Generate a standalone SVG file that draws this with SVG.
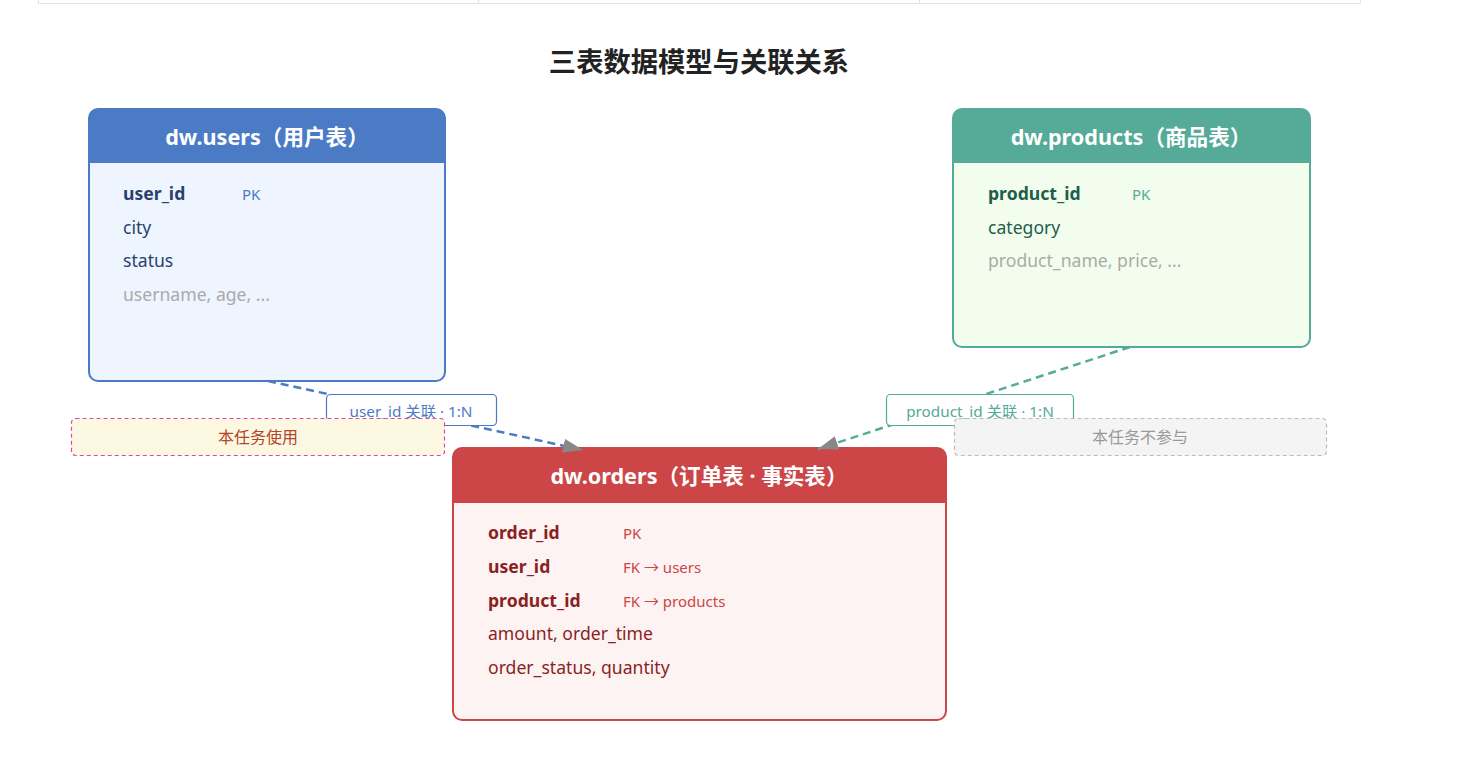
<svg xmlns="http://www.w3.org/2000/svg" width="1458" height="758" viewBox="0 0 1458 758">
<defs>
<style>
text{font-family:"Noto Sans","Noto Sans CJK SC",sans-serif;}
.title{font-size:27.3px;font-weight:bold;fill:#222;font-family:"Noto Sans CJK SC",sans-serif;}
.hdr{font-size:21.6px;font-weight:bold;fill:#fff;text-anchor:middle;}
.f{font-size:17.6px;}
.b{font-weight:bold;}
.tag{font-size:15px;}
.muted{fill:#aaa;}
.u{fill:#2a4170;}
.p{fill:#1e5e4a;}
.o{fill:#8a1f24;}
.lbl{font-size:15.3px;text-anchor:middle;}
.note{font-size:16px;text-anchor:middle;}
.conn{fill:none;stroke-width:2.5;stroke-dasharray:8 5;}
</style>
<marker id="arr" viewBox="0 0 10 7" refX="10" refY="3.5" markerWidth="8" markerHeight="5.6" markerUnits="strokeWidth" orient="auto">
<path d="M0,0 L10,3.5 L0,7 z" fill="#888"/>
</marker>
</defs>
<rect width="1458" height="758" fill="#fff"/>
<g id="table-edge" stroke="#e3e3e3" stroke-width="1" fill="none">
<path d="M38.5,0 V3.5 H1360.5 V0"/>
<path d="M478.5,0 V3.5 M919.5,0 V3.5"/>
</g>
<text class="title" x="699" y="72" text-anchor="middle">三表数据模型与关联关系</text>
<g id="users">
<rect x="89" y="109" width="356" height="272" rx="9" fill="#eef5fe" stroke="#4a7bc4" stroke-width="2"/>
<path d="M89,163 V118 a9,9 0 0 1 9,-9 H436 a9,9 0 0 1 9,9 V163 z" fill="#4a7bc4"/>
<text class="hdr" x="267" y="145">dw.users（用户表）</text>
<text class="f b u" x="123" y="200">user_id</text>
<text class="tag" x="242" y="200" fill="#4a7bc4">PK</text>
<text class="f u" x="123" y="234">city</text>
<text class="f u" x="123" y="267">status</text>
<text class="f muted" x="123" y="301">username, age, ...</text>
</g>
<g id="products">
<rect x="953" y="109" width="357" height="238" rx="9" fill="#f2fdee" stroke="#55aa98" stroke-width="2"/>
<path d="M953,163 V118 a9,9 0 0 1 9,-9 H1301 a9,9 0 0 1 9,9 V163 z" fill="#55aa98"/>
<text class="hdr" x="1131" y="145">dw.products（商品表）</text>
<text class="f b p" x="988" y="200">product_id</text>
<text class="tag" x="1132" y="200" fill="#55aa98">PK</text>
<text class="f p" x="988" y="234">category</text>
<text class="f muted" x="988" y="267">product_name, price, ...</text>
</g>
<g id="orders">
<rect x="453" y="448" width="493" height="272" rx="9" fill="#fdf3f2" stroke="#cc4547" stroke-width="2"/>
<path d="M453,503 V457 a9,9 0 0 1 9,-9 H937 a9,9 0 0 1 9,9 V503 z" fill="#cc4547"/>
<text class="hdr" x="699" y="484">dw.orders（订单表 · 事实表）</text>
<text class="f b o" x="488" y="539">order_id</text>
<text class="tag" x="623" y="539" fill="#cc4547">PK</text>
<text class="f b o" x="488" y="573">user_id</text>
<text class="tag" x="623" y="573" fill="#cc4547">FK → users</text>
<text class="f b o" x="488" y="607">product_id</text>
<text class="tag" x="623" y="607" fill="#cc4547">FK → products</text>
<text class="f o" x="488" y="640">amount, order_time</text>
<text class="f o" x="488" y="674">order_status, quantity</text>
</g>
<g id="connectors">
<line class="conn" x1="268" y1="381" x2="583" y2="450" stroke="#4a7bc4" marker-end="url(#arr)"/>
<rect x="326.5" y="394.5" width="170" height="31" rx="4" fill="#fff" stroke="#4a7bc4" stroke-width="1.2"/>
<text class="lbl" x="411" y="417" fill="#4a7bc4">user_id 关联 · 1:N</text>
<line class="conn" x1="1130" y1="347" x2="818" y2="449" stroke="#55aa98" marker-end="url(#arr)"/>
<rect x="886.5" y="394.5" width="187" height="31" rx="4" fill="#fff" stroke="#55aa98" stroke-width="1.2"/>
<text class="lbl" x="980" y="417" fill="#55aa98">product_id 关联 · 1:N</text>
</g>
<g id="note-used">
<rect x="71.5" y="418.5" width="373" height="37" rx="4" fill="#fdf8e2" stroke="#e046a8" stroke-width="1.2" stroke-dasharray="4 3"/>
<text class="note" x="258" y="443" fill="#b5452a">本任务使用</text>
</g>
<g id="note-unused">
<rect x="954.5" y="418.5" width="372" height="37" rx="4" fill="#f4f4f4" stroke="#bbb" stroke-width="1.2" stroke-dasharray="4 3"/>
<text class="note" x="1140" y="443" fill="#999">本任务不参与</text>
</g>
</svg>
